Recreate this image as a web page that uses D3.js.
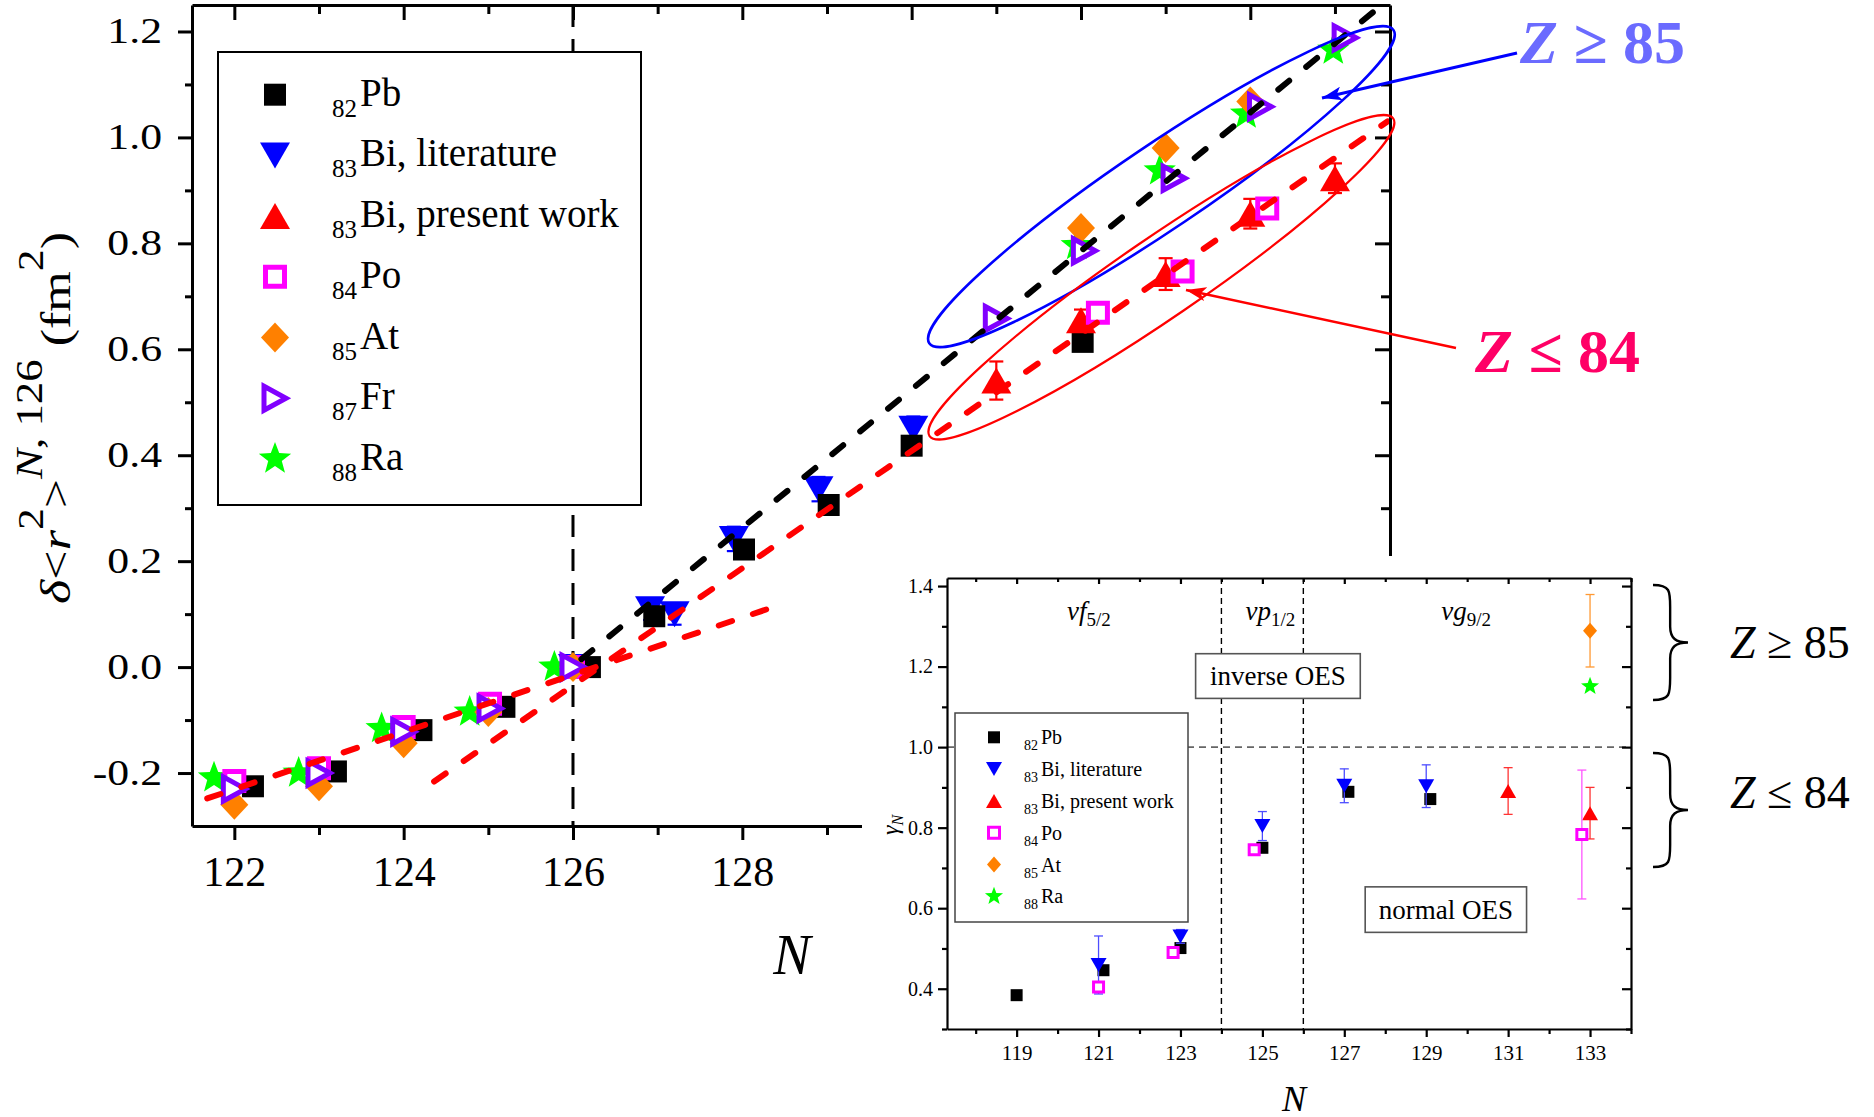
<!DOCTYPE html>
<html>
<head>
<meta charset="utf-8">
<title>Charge radii and OES</title>
<script src="https://cdn.jsdelivr.net/npm/d3@7"></script>
<style>
  body { margin: 0; background: #fff; }
  svg { display: block; }
</style>
</head>
<body>
<svg id="chart" width="1874" height="1117"></svg>
<script>
// ---- main panel: [N as plotted, delta<r2> (fm^2), error] ----
const pbShift = [[122.22,-0.225],[123.2,-0.197],[124.21,-0.119],[125.19,-0.075],[126.2,0.0],[126.96,0.096],[128.02,0.222],[129.02,0.306],[130.0,0.418],[132.02,0.614]];
const biLitShift = [[126.0,0.0,0.01],[126.91,0.109,0.02],[127.2,0.100,0.02],[127.9,0.242,0.023],[128.9,0.336,0.023],[130.02,0.450,0.023]];
const biPresShift = [[131.0,0.541,0.036],[132.0,0.655,0.02],[133.0,0.742,0.03],[134.0,0.856,0.028],[135.0,0.923,0.028]];
const poShift = [[122.0,-0.215],[123.0,-0.191],[124.0,-0.113],[125.02,-0.069],[126.0,0.0],[132.2,0.669],[133.2,0.747],[134.2,0.866]];
const atShift = [[122.0,-0.26],[123.0,-0.225],[124.0,-0.144],[125.0,-0.085],[126.0,0.0],[132.0,0.829],[133.0,0.98],[134.0,1.068]];
const frShift = [[122.0,-0.23],[123.0,-0.2],[124.0,-0.122],[125.02,-0.078],[126.0,0.0],[131.0,0.658],[132.04,0.786],[133.1,0.923],[134.12,1.058],[135.12,1.188]];
const raShift = [[121.76,-0.209],[122.76,-0.2],[123.74,-0.116],[124.78,-0.085],[125.78,0.0],[131.95,0.796],[132.93,0.937],[133.95,1.044],[134.98,1.165]];

// dashed trend lines
const fitBelow126 = [[121.68,-0.248],[128.36,0.113]];
const fitZle84 = [[124.36,-0.216],[135.62,1.03]];
const fitZge85 = [[126.1,0.015],[135.6,1.256]];

// ---- inset: [N as plotted, gamma_N, error] ----
const pbGamma = [[119,0.384],[121.12,0.446],[123.0,0.501],[125.0,0.75],[127.1,0.889],[129.1,0.871]];
const biLitGamma = [[121,0.459,0.072],[123,0.53,0.017],[125,0.804,0.036],[127,0.904,0.042],[129,0.903,0.053]];
const biPresGamma = [[131,0.891,0.058],[133,0.836,0.064]];
const poGamma = [[121,0.404,0.012],[122.82,0.49,0.008],[124.8,0.745,0.008],[132.8,0.783,0.16]];
const atGamma = [[133,1.289,0.09]];
const raGamma = [[133,1.151]];

// ticks and labels
const mainXTicks = [122,124,126,128,130,132,134];
const mainXMinor = [123,125,127,129,131,133,135];
const mainYTicks = [-0.2,0.0,0.2,0.4,0.6,0.8,1.0,1.2];
const mainYMinor = [-0.1,0.1,0.3,0.5,0.7,0.9,1.1];
const insetXTicks = [119,121,123,125,127,129,131,133];
const insetXMinor = [118,120,122,124,126,128,130,132,134];
const insetYTicks = [0.4,0.6,0.8,1.0,1.2,1.4];
const insetYMinor = [0.3,0.5,0.7,0.9,1.1,1.3];
const shellEdges = [124,126];
const orbitals = [["f","5/2",120.23],["p","1/2",124.59],["g","9/2",129.37]];
const mainLegend = [["82","Pb"],["83","Bi, literature"],["83","Bi, present work"],["84","Po"],["85","At"],["87","Fr"],["88","Ra"]];
const insetLegend = [["82","Pb"],["83","Bi, literature"],["83","Bi, present work"],["84","Po"],["85","At"],["88","Ra"]];

const serif = '"Liberation Serif", "Times New Roman", serif';
const svg = d3.select("#chart");

// marker shapes centred on 0,0
function markerPath(type, w, h) {
  const a = w / 2, b = h / 2;
  if (type === "square") return `M${-a},${-b}H${a}V${b}H${-a}Z`;
  if (type === "down") return `M${-a},${-b}L${a},${-b}L0,${b}Z`;
  if (type === "up") return `M${-a},${b}L${a},${b}L0,${-b}Z`;
  if (type === "right") return `M${-a},${-b}L${a},0L${-a},${b}Z`;
  if (type === "diamond") return `M0,${-b}L${a},0L0,${b}L${-a},0Z`;
  const p = [];
  for (let i = 0; i < 10; i++) {
    const r = i % 2 ? a * 0.42 : a;
    const ang = -Math.PI / 2 + i * Math.PI / 5;
    p.push([r * Math.cos(ang), r * Math.sin(ang)]);
  }
  return "M" + p.join("L") + "Z";
}

const styles = {
  pb:     { type: "square",  fill: "#000000", stroke: "none" },
  biLit:  { type: "down",    fill: "#0000ff", stroke: "none" },
  biPres: { type: "up",      fill: "#ff0000", stroke: "none" },
  po:     { type: "square",  fill: "#ffffff", stroke: "#ff00ff" },
  at:     { type: "diamond", fill: "#ff8000", stroke: "none" },
  fr:     { type: "right",   fill: "#ffffff", stroke: "#8000ff" },
  ra:     { type: "star",    fill: "#00ff00", stroke: "none" }
};
const mainSize = { pb: [22,22,0], biLit: [30,26,0], biPres: [30,26,0], po: [19,19,5], at: [28,30,0], fr: [22,24,5], ra: [34,34,0] };
const insetSize = { pb: [12,12,0], biLit: [16,14,0], biPres: [16,14,0], po: [10,10,3], at: [14,16,0], ra: [19,19,0] };

function drawMarkers(g, data, key, sizes, xs, ys) {
  const s = styles[key], z = sizes[key];
  g.append("g").selectAll("path").data(data).join("path")
    .attr("d", markerPath(s.type, z[0], z[1]))
    .attr("transform", d => `translate(${xs(d[0])},${ys(d[1])})`)
    .attr("fill", s.fill)
    .attr("stroke", s.stroke)
    .attr("stroke-width", z[2])
    .attr("stroke-linejoin", "miter");
}

function drawErrors(g, data, color, xs, ys, sw, cap) {
  const e = g.append("g").attr("stroke", color).attr("stroke-width", sw);
  data.forEach(d => {
    const x = xs(d[0]), y1 = ys(d[1] + d[2]), y0 = ys(d[1] - d[2]);
    e.append("line").attr("x1", x).attr("x2", x).attr("y1", y1).attr("y2", y0);
    e.append("line").attr("x1", x - cap / 2).attr("x2", x + cap / 2).attr("y1", y1).attr("y2", y1);
    e.append("line").attr("x1", x - cap / 2).attr("x2", x + cap / 2).attr("y1", y0).attr("y2", y0);
  });
}

function drawAxis(gen, tr, vals, size, fmt, font, pad, sw, keepDomain) {
  const g = svg.append("g").attr("transform", tr)
    .call(gen.tickValues(vals).tickSize(size).tickSizeOuter(0).tickPadding(pad).tickFormat(fmt || (() => "")));
  g.attr("font-family", serif).attr("font-size", font);
  if (keepDomain) g.select(".domain").attr("stroke", "#000").attr("stroke-width", sw);
  else g.select(".domain").remove();
  g.selectAll(".tick line").attr("stroke", "#000").attr("stroke-width", sw);
  g.selectAll(".tick text").attr("fill", "#000");
  return g;
}

// isotope label with left subscript: "82Pb"
function isoLabel(g, x, y, sub, name, subSize, size, drop) {
  const t = g.append("text").attr("x", x).attr("y", y).attr("font-family", serif);
  t.append("tspan").attr("font-size", subSize).attr("dy", drop).text(sub);
  t.append("tspan").attr("font-size", size).attr("dy", -drop).attr("dx", 3).text(name);
}

// ================= main panel =================
const xM = d3.scaleLinear().domain([121.5, 135.65]).range([192, 1390]);
const yM = d3.scaleLinear().domain([-0.3, 1.25]).range([826, 5]);

svg.append("clipPath").attr("id", "mainClip").append("rect")
  .attr("x", 192).attr("y", 5).attr("width", 1198).attr("height", 821);
const main = svg.append("g").attr("clip-path", "url(#mainClip)");

main.append("line")
  .attr("x1", xM(126)).attr("x2", xM(126)).attr("y1", yM.range()[1]).attr("y2", yM.range()[0])
  .attr("stroke", "#000").attr("stroke-width", 3).attr("stroke-dasharray", "22 12");

drawMarkers(main, raShift, "ra", mainSize, xM, yM);
drawErrors(main, biLitShift, "#0000ff", xM, yM, 2.2, 14);
drawMarkers(main, biLitShift, "biLit", mainSize, xM, yM);
drawMarkers(main, pbShift, "pb", mainSize, xM, yM);
drawErrors(main, biPresShift, "#ff0000", xM, yM, 2.2, 14);
drawMarkers(main, biPresShift, "biPres", mainSize, xM, yM);
drawMarkers(main, poShift, "po", mainSize, xM, yM);
drawMarkers(main, atShift, "at", mainSize, xM, yM);
drawMarkers(main, frShift, "fr", mainSize, xM, yM);

const lineM = d3.line().x(d => xM(d[0])).y(d => yM(d[1]));
[[fitBelow126, "#ff0000"], [fitZle84, "#ff0000"], [fitZge85, "#000000"]].forEach(([pts, c]) => {
  main.append("path").attr("d", lineM(pts)).attr("fill", "none")
    .attr("stroke", c).attr("stroke-width", 6).attr("stroke-linecap", "round")
    .attr("stroke-dasharray", "14 22");
});

const yAxM = drawAxis(d3.axisLeft(yM), "translate(192,0)", mainYTicks, 14, d => d.toFixed(1), 35, 10, 3, true);
yAxM.selectAll(".tick text").attr("transform", "scale(1.25,1)");
drawAxis(d3.axisLeft(yM), "translate(192,0)", mainYMinor, 7, null, 35, 0, 3, false);
drawAxis(d3.axisBottom(xM), "translate(0,826)", mainXTicks, 14, d => d, 42, 16, 3, true);
drawAxis(d3.axisBottom(xM), "translate(0,826)", mainXMinor, 9, null, 42, 0, 3, false);
drawAxis(d3.axisTop(xM), "translate(0,5)", mainXTicks, -15, null, 10, 0, 3, true);
drawAxis(d3.axisTop(xM), "translate(0,5)", mainXMinor, -9, null, 10, 0, 3, false);
drawAxis(d3.axisRight(yM), "translate(1390,0)", mainYTicks, -15, null, 10, 0, 3, true);
drawAxis(d3.axisRight(yM), "translate(1390,0)", mainYMinor, -9, null, 10, 0, 3, false);

// main legend
const legM = svg.append("g");
legM.append("rect").attr("x", 218).attr("y", 52).attr("width", 423).attr("height", 453)
  .attr("fill", "#fff").attr("stroke", "#000").attr("stroke-width", 2);
const legKeysM = ["pb", "biLit", "biPres", "po", "at", "fr", "ra"];
legKeysM.forEach((k, i) => {
  const cy = 94.7 + i * 60.7;
  const s = styles[k], z = mainSize[k];
  legM.append("path").attr("d", markerPath(s.type, z[0], z[1]))
    .attr("transform", `translate(275,${cy})`)
    .attr("fill", s.fill).attr("stroke", s.stroke).attr("stroke-width", z[2]);
  isoLabel(legM, 332, cy + 11, mainLegend[i][0], mainLegend[i][1], 25, 39, 11);
});

// Z-group annotations
const ann = svg.append("g");
const defs = svg.append("defs");
[["arrBlue", "#0000ff"], ["arrRed", "#ff0000"]].forEach(([id, c]) => {
  defs.append("marker").attr("id", id).attr("viewBox", "0 0 20 14").attr("refX", 20).attr("refY", 7)
    .attr("markerWidth", 20).attr("markerHeight", 14).attr("markerUnits", "userSpaceOnUse").attr("orient", "auto")
    .append("path").attr("d", "M0,0L20,7L0,14L5,7Z").attr("fill", c);
});
ann.append("ellipse")
  .attr("transform", `translate(${xM(132.95)},${yM(0.907)}) rotate(-34)`)
  .attr("rx", 280).attr("ry", 42).attr("fill", "none").attr("stroke", "#0000ff").attr("stroke-width", 2.6);
ann.append("ellipse")
  .attr("transform", `translate(${xM(132.95)},${yM(0.736)}) rotate(-34.4)`)
  .attr("rx", 281).attr("ry", 40).attr("fill", "none").attr("stroke", "#ff0000").attr("stroke-width", 2.2);
ann.append("line").attr("x1", 1517).attr("y1", 53).attr("x2", 1322).attr("y2", 98)
  .attr("stroke", "#0000ff").attr("stroke-width", 3).attr("marker-end", "url(#arrBlue)");
ann.append("line").attr("x1", 1456).attr("y1", 348).attr("x2", 1186).attr("y2", 290)
  .attr("stroke", "#ff0000").attr("stroke-width", 2.6).attr("marker-end", "url(#arrRed)");

function zText(x, y, rel, num, size, color, bold) {
  const t = svg.append("text").attr("x", x).attr("y", y).attr("font-family", serif)
    .attr("font-size", size).attr("fill", color).attr("font-weight", bold ? "bold" : "normal");
  t.append("tspan").attr("font-style", "italic").text("Z");
  t.append("tspan").text(` ${rel} ${num}`);
}
zText(1520, 63, "≥", "85", 62, "#6b6bff", true);
zText(1475, 372, "≤", "84", 62, "#ff0066", true);

// axis titles of main panel
const yTitle = svg.append("text")
  .attr("transform", "translate(70,418) rotate(-90)")
  .attr("text-anchor", "middle").attr("font-family", serif).attr("font-size", 43)
  .attr("textLength", 372).attr("lengthAdjust", "spacingAndGlyphs");
yTitle.append("tspan").attr("font-style", "italic").text("δ");
yTitle.append("tspan").text("<");
yTitle.append("tspan").attr("font-style", "italic").text("r");
yTitle.append("tspan").attr("font-size", 36).attr("dy", -27).text("2");
yTitle.append("tspan").attr("dy", 27).text(">");
yTitle.append("tspan").attr("font-size", 37).attr("font-style", "italic").attr("dy", -28).text("N");
yTitle.append("tspan").attr("font-size", 37).text(", 126");
yTitle.append("tspan").attr("dy", 28).text(" (fm");
yTitle.append("tspan").attr("font-size", 36).attr("dy", -27).text("2");
yTitle.append("tspan").attr("dy", 27).text(")");

svg.append("text").attr("x", 792).attr("y", 974).attr("text-anchor", "middle")
  .attr("font-family", serif).attr("font-style", "italic").attr("font-size", 56).text("N");

// ================= inset =================
svg.append("rect").attr("x", 862).attr("y", 556).attr("width", 1012).attr("height", 561).attr("fill", "#fff");

const xI = d3.scaleLinear().domain([117.3, 134]).range([947, 1631]);
const yI = d3.scaleLinear().domain([0.3, 1.42]).range([1029, 578]);
const ins = svg.append("g");

ins.append("line").attr("x1", xI.range()[0]).attr("x2", xI.range()[1]).attr("y1", yI(1.0)).attr("y2", yI(1.0))
  .attr("stroke", "#666").attr("stroke-width", 1.6).attr("stroke-dasharray", "7 5");
shellEdges.forEach(n => {
  ins.append("line").attr("x1", xI(n)).attr("x2", xI(n)).attr("y1", yI.range()[1]).attr("y2", yI.range()[0])
    .attr("stroke", "#000").attr("stroke-width", 1.4).attr("stroke-dasharray", "6 4");
});

orbitals.forEach(o => {
  const t = ins.append("text").attr("x", xI(o[2])).attr("y", 620).attr("font-family", serif).attr("font-size", 27);
  t.append("tspan").attr("font-style", "italic").text("ν" + o[0]);
  t.append("tspan").attr("font-size", 19).attr("dy", 6).text(o[1]);
});

function labelBox(n0, n1, g0, g1, label) {
  ins.append("rect").attr("x", xI(n0)).attr("y", yI(g0)).attr("width", xI(n1) - xI(n0)).attr("height", yI(g1) - yI(g0))
    .attr("fill", "#fff").attr("stroke", "#555").attr("stroke-width", 1.6);
  ins.append("text").attr("x", (xI(n0) + xI(n1)) / 2).attr("y", (yI(g0) + yI(g1)) / 2 + 9)
    .attr("text-anchor", "middle").attr("font-family", serif).attr("font-size", 27).text(label);
}
labelBox(123.37, 127.39, 1.232, 1.121, "inverse OES");
labelBox(127.51, 131.45, 0.653, 0.54, "normal OES");

drawMarkers(ins, pbGamma, "pb", insetSize, xI, yI);
drawErrors(ins, biLitGamma, "#4d4dff", xI, yI, 1.3, 9);
drawMarkers(ins, biLitGamma, "biLit", insetSize, xI, yI);
drawErrors(ins, biPresGamma, "#ff3333", xI, yI, 1.3, 9);
drawMarkers(ins, biPresGamma, "biPres", insetSize, xI, yI);
drawErrors(ins, poGamma, "#ff55ff", xI, yI, 1.3, 9);
drawMarkers(ins, poGamma, "po", insetSize, xI, yI);
drawErrors(ins, atGamma, "#ff9933", xI, yI, 1.3, 9);
drawMarkers(ins, atGamma, "at", insetSize, xI, yI);
drawMarkers(ins, raGamma, "ra", insetSize, xI, yI);

drawAxis(d3.axisLeft(yI), "translate(947,0)", insetYTicks, 9, d => d.toFixed(1), 20, 5, 2.2, true);
drawAxis(d3.axisLeft(yI), "translate(947,0)", insetYMinor, 5, null, 20, 0, 2.2, false);
drawAxis(d3.axisBottom(xI), "translate(0,1029)", insetXTicks, 8, d => d, 21, 8, 2.2, true);
drawAxis(d3.axisBottom(xI), "translate(0,1029)", insetXMinor, 5, null, 21, 0, 2.2, false);
drawAxis(d3.axisTop(xI), "translate(0,578)", insetXTicks, -6, null, 10, 0, 2.2, true);
drawAxis(d3.axisTop(xI), "translate(0,578)", insetXMinor, -4, null, 10, 0, 2.2, false);
drawAxis(d3.axisRight(yI), "translate(1631,0)", insetYTicks, -9, null, 10, 0, 2.2, true);
drawAxis(d3.axisRight(yI), "translate(1631,0)", insetYMinor, -5, null, 10, 0, 2.2, false);

// inset legend
const legI = svg.append("g");
legI.append("rect").attr("x", 955).attr("y", 713).attr("width", 233).attr("height", 209)
  .attr("fill", "#fff").attr("stroke", "#444").attr("stroke-width", 1.5);
const legKeysI = ["pb", "biLit", "biPres", "po", "at", "ra"];
const legSizeI = Object.assign({}, insetSize, { po: [11,11,3] });
legKeysI.forEach((k, i) => {
  const cy = 737.3 + i * 31.8;
  const s = styles[k], z = legSizeI[k];
  legI.append("path").attr("d", markerPath(s.type, z[0], z[1]))
    .attr("transform", `translate(994,${cy})`)
    .attr("fill", s.fill).attr("stroke", s.stroke).attr("stroke-width", z[2]);
  isoLabel(legI, 1024, cy + 7, insetLegend[i][0], insetLegend[i][1], 14, 20, 6);
});

// inset axis titles
svg.append("text").attr("x", 1294).attr("y", 1111).attr("text-anchor", "middle")
  .attr("font-family", serif).attr("font-style", "italic").attr("font-size", 36).text("N");
const gTitle = svg.append("text").attr("transform", "translate(898,825) rotate(-90)")
  .attr("text-anchor", "middle").attr("font-family", serif).attr("font-style", "italic").attr("font-size", 24);
gTitle.append("tspan").text("γ");
gTitle.append("tspan").attr("font-size", 16).attr("dy", 5).text("N");

// braces with Z ranges on the right of the inset
function brace(x, y0, y1, w) {
  const ym = (y0 + y1) / 2, xm = x + w * 0.49;
  return `M${x},${y0} C${xm},${y0} ${xm},${y0 + 6} ${xm},${y0 + 22} L${xm},${ym - 16}` +
    ` C${xm},${ym - 4} ${xm + 6},${ym} ${x + w},${ym} C${xm + 6},${ym} ${xm},${ym + 4} ${xm},${ym + 16}` +
    ` L${xm},${y1 - 22} C${xm},${y1 - 6} ${xm},${y1} ${x},${y1}`;
}
svg.append("path").attr("d", brace(1653, 585, 700, 35)).attr("fill", "none").attr("stroke", "#000").attr("stroke-width", 2.4);
svg.append("path").attr("d", brace(1653, 753, 867, 35)).attr("fill", "none").attr("stroke", "#000").attr("stroke-width", 2.4);
zText(1730, 658, "≥", "85", 46, "#000", false);
zText(1730, 808, "≤", "84", 46, "#000", false);
</script>
</body>
</html>
